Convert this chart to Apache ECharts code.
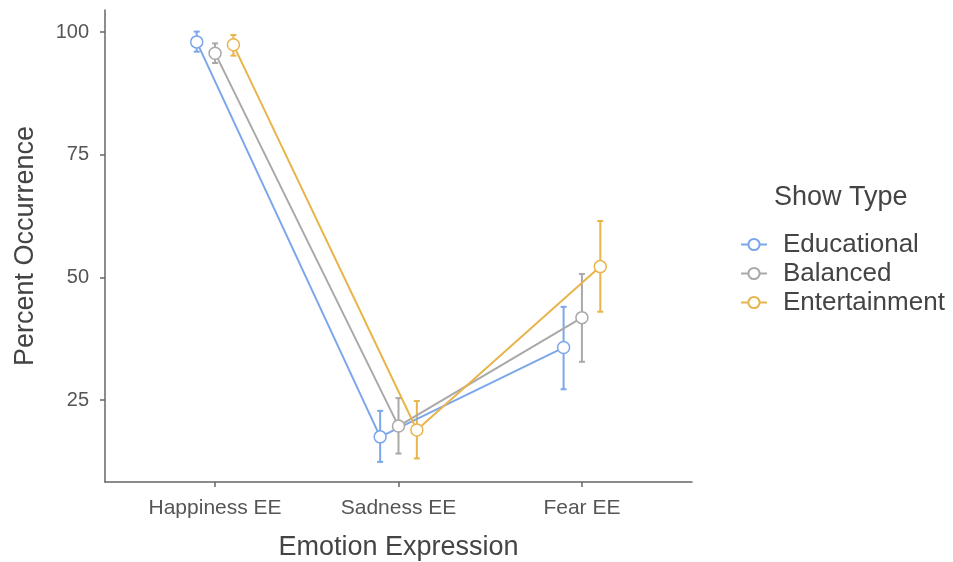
<!DOCTYPE html>
<html>
<head>
    <meta charset="UTF-8">
    <title>Percent Occurrence by Show Type</title>
    <style type="text/css">
        body{margin:0;background:#fff;}
        #myChart{width:953px;height:562px;}
    </style>
</head>
<body>
<div id="myChart"></div>

<script src="https://cdn.jsdelivr.net/npm/echarts@6/dist/echarts.min.js"></script>
<script type="text/javascript">
    // 数据
    var categories = ['Happiness EE', 'Sadness EE', 'Fear EE'];
    var showTypes = ['Educational', 'Balanced', 'Entertainment'];

    var educational     = [98.0, 17.5, 35.7];
    var educationalLow  = [96.0, 12.4, 27.2];
    var educationalHigh = [100.1, 22.8, 44.0];

    var balanced     = [95.7, 19.7, 41.8];
    var balancedLow  = [93.7, 14.1, 32.8];
    var balancedHigh = [97.7, 25.4, 50.7];

    var entertainment     = [97.4, 18.9, 52.2];
    var entertainmentLow  = [95.2, 13.1, 43.0];
    var entertainmentHigh = [99.4, 24.8, 61.5];

    var yTicks = [25, 50, 75, 100];

    var colors = ['#7ba7ea', '#a9a9a9', '#e8b44c'];
    var dodge = [-0.1, 0, 0.1];
    var font = 'Liberation Sans';

    var groups = [
        [educational, educationalLow, educationalHigh],
        [balanced, balancedLow, balancedHigh],
        [entertainment, entertainmentLow, entertainmentHigh]
    ];

    var myChart = echarts.init(document.getElementById('myChart'));

    var series = [];
    // 均值折线（先放，图例取这些）
    groups.forEach(function (g, i) {
        series.push({
            type: 'line',
            name: showTypes[i],
            z: 3,
            symbol: 'circle',
            symbolSize: 12,
            color: colors[i],
            itemStyle: {color: '#fff', borderColor: colors[i], borderWidth: 1.5},
            lineStyle: {color: colors[i], width: 2},
            emphasis: {disabled: true},
            data: categories.map(function (c, k) {
                return [k + 1 + dodge[i], g[0][k]];
            })
        });
    });
    // 误差线
    groups.forEach(function (g, i) {
        series.push({
            type: 'custom',
            name: showTypes[i],
            z: 2,
            silent: true,
            data: categories.map(function (c, k) {
                return [k + 1 + dodge[i], g[1][k], g[2][k]];
            }),
            renderItem: function (params, api) {
                var top = api.coord([api.value(0), api.value(2)]);
                var bot = api.coord([api.value(0), api.value(1)]);
                var w = 3;
                var style = {stroke: colors[i], lineWidth: 2};
                return {
                    type: 'group',
                    children: [
                        {type: 'line', shape: {x1: top[0], y1: top[1], x2: bot[0], y2: bot[1]}, style: style},
                        {type: 'line', shape: {x1: top[0] - w, y1: top[1], x2: top[0] + w, y2: top[1]}, style: style},
                        {type: 'line', shape: {x1: bot[0] - w, y1: bot[1], x2: bot[0] + w, y2: bot[1]}, style: style}
                    ]
                };
            }
        });
    });

    var option = {
        animation: false,
        textStyle: {fontFamily: font},
        grid: {left: 105, right: 261, top: 10, bottom: 80, outerBoundsMode: 'none', containLabel: false},
        xAxis: {
            type: 'value',
            min: 0.4,
            max: 3.6,
            name: 'Emotion Expression',
            nameLocation: 'middle',
            nameGap: 52,
            nameTextStyle: {fontSize: 27, color: '#444'},
            splitLine: {show: false},
            axisLine: {lineStyle: {color: '#666', width: 1.5}},
            axisTick: {show: true, length: 5, customValues: [1, 2, 3], lineStyle: {color: '#666', width: 1.5}},
            axisLabel: {
                customValues: [1, 2, 3],
                margin: 16,
                fontSize: 21,
                color: '#555',
                formatter: function (v) { return categories[Math.round(v) - 1]; }
            }
        },
        yAxis: {
            type: 'value',
            min: 8.3,
            max: 104.5,
            name: 'Percent Occurrence',
            nameLocation: 'middle',
            nameGap: 66,
            nameTextStyle: {fontSize: 27, color: '#444'},
            splitLine: {show: false},
            axisLine: {show: true, lineStyle: {color: '#666', width: 1.5}},
            axisTick: {show: true, length: 5, customValues: yTicks, lineStyle: {color: '#666', width: 1.5}},
            axisLabel: {customValues: yTicks, margin: 16, fontSize: 20, color: '#555'}
        },
        legend: {
            orient: 'vertical',
            left: 735,
            top: 225,
            itemWidth: 26,
            itemHeight: 14,
            itemGap: 0,
            data: showTypes,
            textStyle: {fontSize: 26, color: '#444', lineHeight: 29, padding: [0, 0, 0, 11]}
        },
        graphic: [{
            type: 'text',
            left: 774,
            top: 184,
            style: {text: 'Show Type', font: '27px "Liberation Sans"', fill: '#444'}
        }],
        series: series
    };

    myChart.setOption(option);
</script>
</body>
</html>
